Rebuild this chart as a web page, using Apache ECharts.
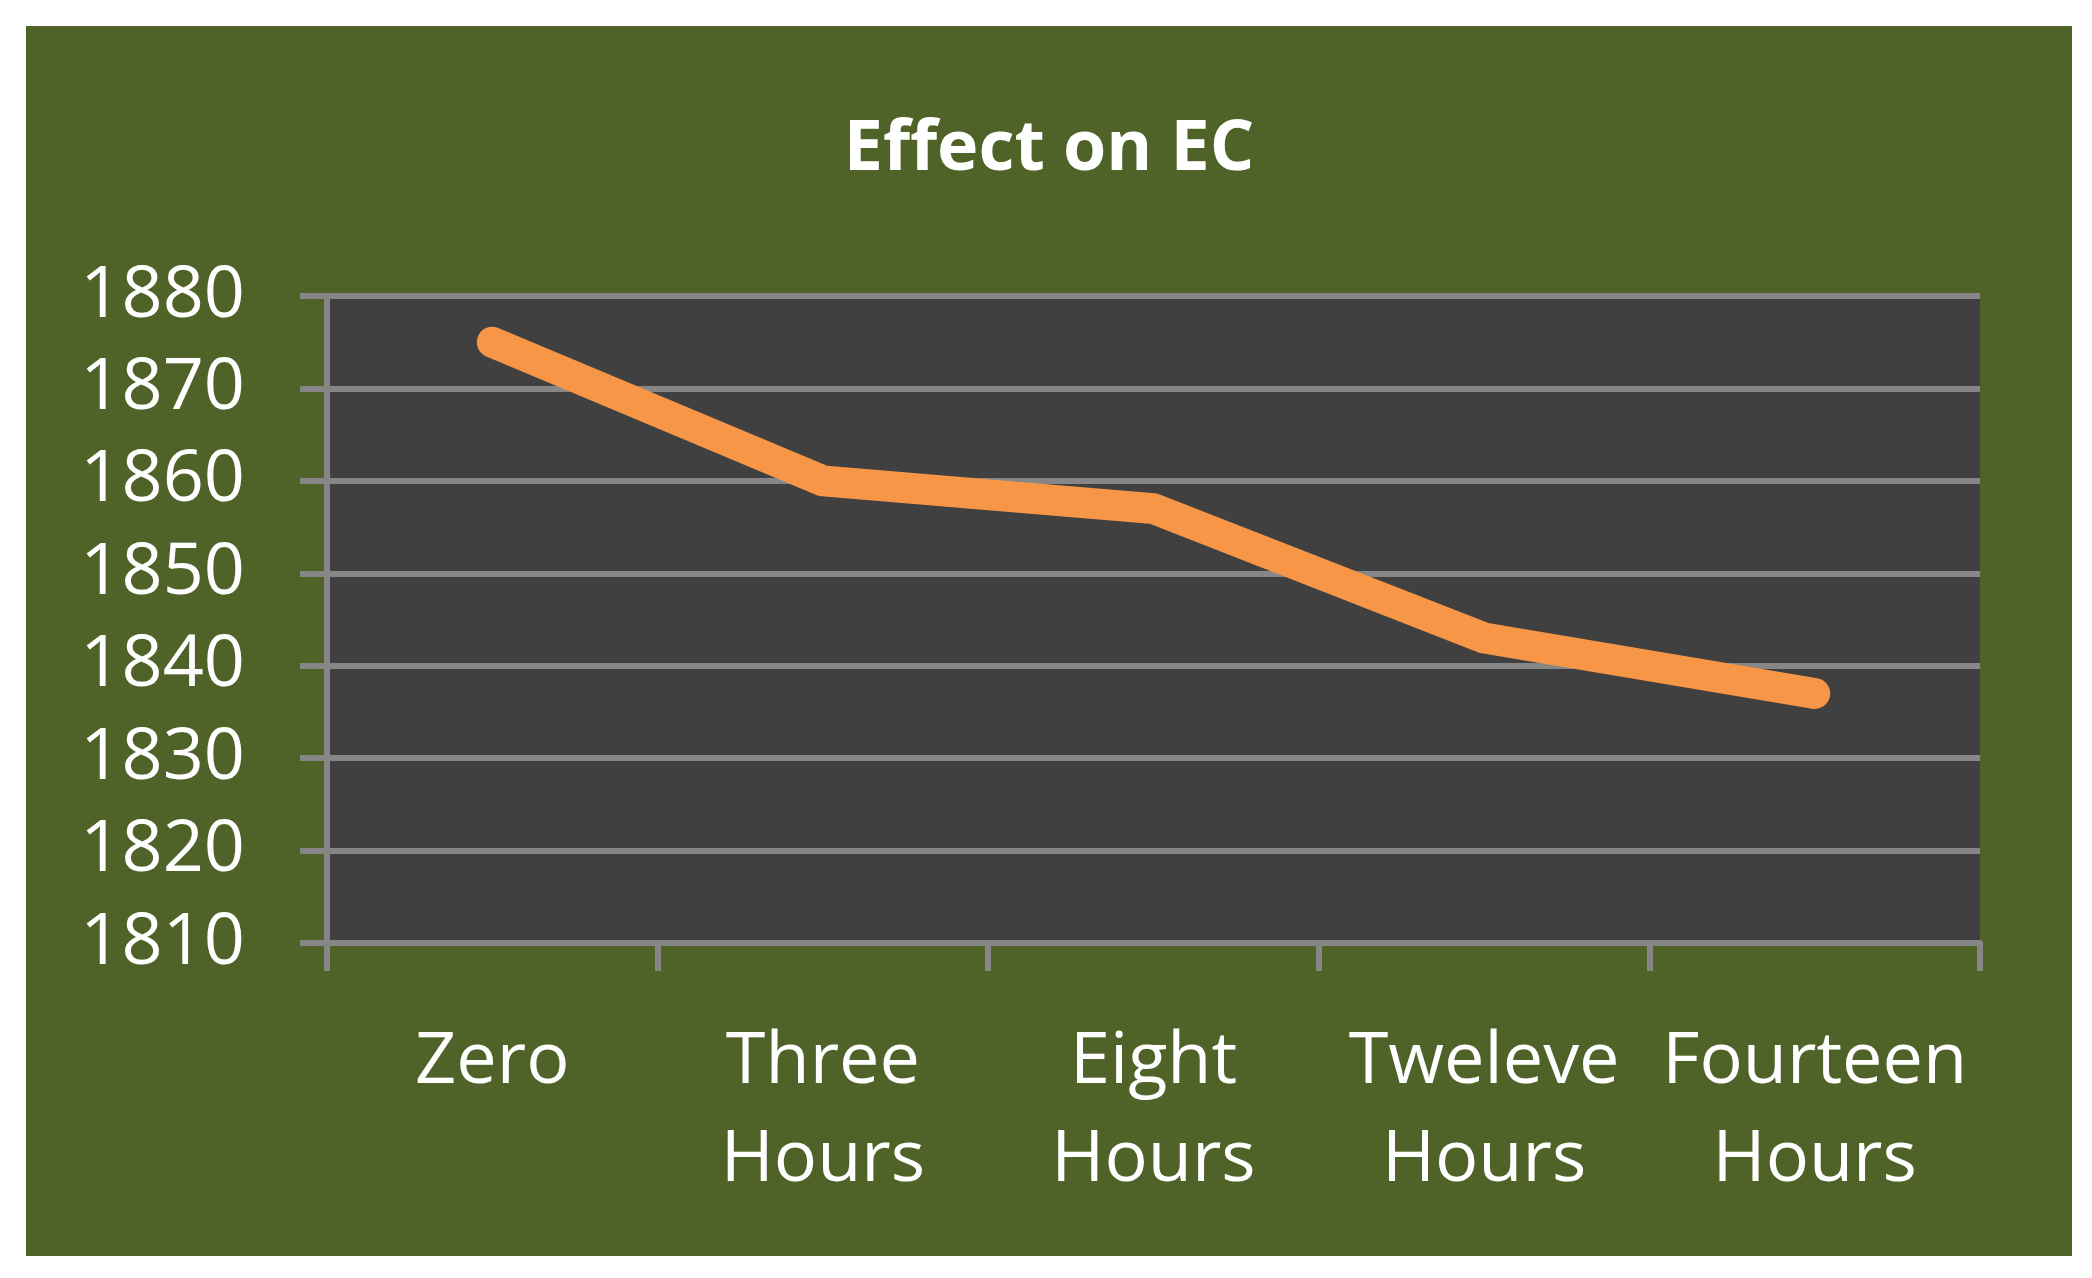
<!DOCTYPE html>
<html>
<head>
<meta charset="utf-8">
<script src="https://cdn.jsdelivr.net/npm/echarts@6/dist/echarts.min.js"></script>
<style>
html, body { margin: 0; padding: 0; background: #ffffff; width: 2092px; height: 1278px; overflow: hidden; }
#chart { position: absolute; left: 26px; top: 26px; width: 2046px; height: 1230px; }
</style>
</head>
<body>
<div id="chart"></div>
<script>
const titleText = 'Effect on EC';
const categories = ['Zero', 'Three\nHours', 'Eight\nHours', 'Tweleve\nHours', 'Fourteen\nHours'];
const ecValues = [1875, 1860, 1857, 1843, 1837];
const yMin = 1810;
const yMax = 1880;
const yStep = 10;

const chart = echarts.init(document.getElementById('chart'), null, { renderer: 'canvas' });
const gridColor = '#868686';
const font = 'Open Sans';
chart.setOption({
  backgroundColor: '#4F6228',
  animation: false,
  title: {
    text: titleText,
    left: 'center',
    top: 84,
    textStyle: { color: '#ffffff', fontFamily: font, fontWeight: 'bold', fontSize: 70, lineHeight: 70 }
  },
  grid: {
    left: 301, right: 92, top: 270, bottom: 313,
    show: true, backgroundColor: '#404040', borderWidth: 0
  },
  xAxis: {
    type: 'category',
    data: categories,
    boundaryGap: true,
    axisLine: { show: true, lineStyle: { color: gridColor, width: 6 } },
    axisTick: { show: true, length: 28, lineStyle: { color: gridColor, width: 6 } },
    axisLabel: {
      interval: 0, color: '#ffffff', fontFamily: font, fontSize: 72, lineHeight: 98, margin: 70
    },
    splitLine: { show: false }
  },
  yAxis: {
    type: 'value',
    min: yMin, max: yMax, interval: yStep,
    axisLine: { show: true, lineStyle: { color: gridColor, width: 6 } },
    axisTick: { show: true, length: 27, lineStyle: { color: gridColor, width: 6 } },
    axisLabel: {
      color: '#ffffff', fontFamily: font, fontSize: 72, margin: 82,
      formatter: function (v) { return String(v); }
    },
    splitLine: { show: true, lineStyle: { color: gridColor, width: 6 } }
  },
  series: [{
    type: 'line',
    data: ecValues,
    symbol: 'none',
    lineStyle: { color: '#F79646', width: 31, cap: 'round', join: 'round' }
  }]
});
</script>
</body>
</html>
